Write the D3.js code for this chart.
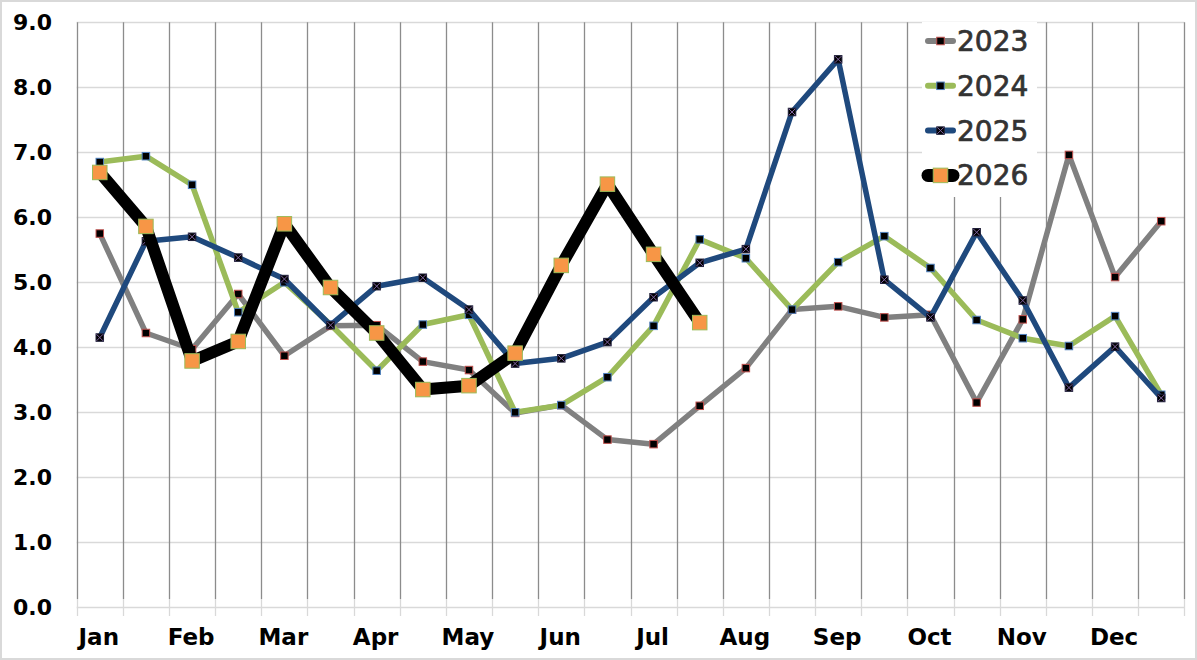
<!DOCTYPE html>
<html>
<head>
<meta charset="utf-8">
<script src="https://cdn.jsdelivr.net/npm/d3@7"></script>
<style>
  body { margin: 0; background: #fff; }
  svg { display: block; }
</style>
</head>
<body>
<svg id="chart"></svg>
<script>
// semi-monthly readings, two per month
var months = ['Jan', 'Feb', 'Mar', 'Apr', 'May', 'Jun', 'Jul', 'Aug', 'Sep', 'Oct', 'Nov', 'Dec'];
var periods = [];
months.forEach(function (m) { periods.push(m + '-1'); periods.push(m + '-2'); });

var yTicks = [0, 1, 2, 3, 4, 5, 6, 7, 8, 9];

var v2023 = [5.75, 4.22, 3.97, 4.82, 3.87, 4.33, 4.34, 3.78, 3.65, 2.99, 3.11, 2.58,
             2.51, 3.10, 3.68, 4.58, 4.63, 4.46, 4.50, 3.15, 4.43, 6.96, 5.08, 5.94];
var v2024 = [6.85, 6.94, 6.50, 4.54, 5.00, 4.35, 3.64, 4.35, 4.50, 3.00, 3.11, 3.54,
             4.33, 5.66, 5.37, 4.58, 5.31, 5.71, 5.22, 4.42, 4.14, 4.02, 4.48, 3.27];
var v2025 = [4.15, 5.63, 5.70, 5.38, 5.05, 4.34, 4.94, 5.07, 4.58, 3.75, 3.83, 4.08,
             4.77, 5.30, 5.51, 7.62, 8.43, 5.04, 4.46, 5.77, 4.72, 3.38, 4.01, 3.22];
var v2026 = [6.69, 5.86, 3.79, 4.09, 5.90, 4.92, 4.22, 3.35, 3.41, 3.91, 5.26, 6.51,
             5.43, 4.38];

var seriesNames = ['2023', '2024', '2025', '2026'];

var W = 1197, H = 660;
var svg = d3.select('#chart').attr('width', W).attr('height', H);

// outer frame
svg.append('rect')
    .attr('x', 1).attr('y', 1).attr('width', W - 2).attr('height', H - 2)
    .attr('fill', '#fff').attr('stroke', '#d9d9d9').attr('stroke-width', 2);

var x = d3.scaleBand().domain(periods).range([76.7, 1184.3]).padding(0);
var y = d3.scaleLinear().domain([0, 9]).range([607.3, 22.3]);

var grid = svg.append('g');
// horizontal gridlines
grid.selectAll('line.h').data(yTicks).enter().append('line')
    .attr('x1', 76.7).attr('x2', 1184.3)
    .attr('y1', function (d) { return Math.round(y(d)) + 0.5; })
    .attr('y2', function (d) { return Math.round(y(d)) + 0.5; })
    .attr('stroke', '#d9d9d9').attr('stroke-width', 1.5);

// vertical gridlines between periods (plus the closing one)
var bounds = periods.map(function (p) { return x(p); });
bounds.push(x.range()[1]);
grid.selectAll('line.v').data(bounds).enter().append('line')
    .attr('x1', function (d) { return Math.round(d) + 0.5; })
    .attr('x2', function (d) { return Math.round(d) + 0.5; })
    .attr('y1', y(9)).attr('y2', 599)
    .attr('stroke', '#8c8c8c').attr('stroke-width', 1.3);
grid.selectAll('line.t').data(bounds).enter().append('line')
    .attr('x1', function (d) { return Math.round(d) + 0.5; })
    .attr('x2', function (d) { return Math.round(d) + 0.5; })
    .attr('y1', 599).attr('y2', 616)
    .attr('stroke', '#d9d9d9').attr('stroke-width', 1.3);

// y labels
svg.selectAll('text.yl').data(yTicks).enter().append('text')
    .attr('x', 52).attr('y', function (d) { return y(d) + 8; })
    .attr('text-anchor', 'end')
    .style('font-family', 'DejaVu Sans').style('font-weight', 'bold').style('font-size', '22px')
    .attr('fill', '#000')
    .text(function (d) { return d.toFixed(1); });

// x labels on the first half of each month
svg.selectAll('text.xl').data(months).enter().append('text')
    .attr('x', function (m) { return x(m + '-1') + x.bandwidth() / 2 - 1; })
    .attr('y', 645)
    .attr('text-anchor', 'middle')
    .style('font-family', 'DejaVu Sans').style('font-weight', 'bold').style('font-size', '23px')
    .attr('fill', '#000')
    .text(function (m) { return m; });

var cx = function (d, i) { return x(periods[i]) + x.bandwidth() / 2; };
var line = d3.line()
    .x(function (d, i) { return cx(d, i); })
    .y(function (d) { return y(d); });

var styles = {
    '2023': { color: '#808080', width: 5.5, size: 7.5, fill: '#000', edge: '#c0504d', cross: false },
    '2024': { color: '#9bbb59', width: 5.5, size: 7.5, fill: '#000', edge: '#4f81bd', cross: false },
    '2025': { color: '#1f497d', width: 5.5, size: 7.5, fill: '#000', edge: '#1f1f3a', cross: true },
    '2026': { color: '#000000', width: 12, size: 14.5, fill: '#f79646', edge: '#9bbb59', cross: false }
};
var data = { '2023': v2023, '2024': v2024, '2025': v2025, '2026': v2026 };

function drawMarker(g, px, py, st) {
    var s = st.size;
    g.append('rect')
        .attr('x', px - s / 2).attr('y', py - s / 2)
        .attr('width', s).attr('height', s)
        .attr('fill', st.fill).attr('stroke', st.edge).attr('stroke-width', 1);
    if (st.cross) {
        var h = s / 2 - 0.5;
        g.append('path')
            .attr('d', 'M' + (px - h) + ',' + (py - h) + 'L' + (px + h) + ',' + (py + h) +
                       'M' + (px + h) + ',' + (py - h) + 'L' + (px - h) + ',' + (py + h))
            .attr('stroke', '#8064a2').attr('stroke-width', 1);
    }
}

seriesNames.forEach(function (name) {
    var st = styles[name];
    var vals = data[name];
    var g = svg.append('g');
    g.append('path')
        .datum(vals)
        .attr('d', line)
        .attr('fill', 'none')
        .attr('stroke', st.color)
        .attr('stroke-width', st.width)
        .attr('stroke-linejoin', 'round')
        .attr('stroke-linecap', 'round');
    vals.forEach(function (v, i) {
        drawMarker(g, cx(v, i), y(v), st);
    });
});

// legend
var lg = svg.append('g');
lg.append('rect')
    .attr('x', 922).attr('y', 22).attr('width', 115).attr('height', 175)
    .attr('fill', '#fff');
seriesNames.forEach(function (name, i) {
    var st = styles[name];
    var cy = 41 + i * 44.8;
    lg.append('line')
        .attr('x1', 928).attr('x2', 953).attr('y1', cy).attr('y2', cy)
        .attr('stroke', st.color)
        .attr('stroke-width', name === '2026' ? 13 : 6)
        .attr('stroke-linecap', 'round');
    drawMarker(lg, 940.5, cy, st);
    lg.append('text')
        .attr('x', 957).attr('y', cy + 10)
        .style('font-family', 'DejaVu Sans').style('font-size', '28px')
        .attr('fill', '#333').attr('stroke', '#333').attr('stroke-width', 0.7)
        .text(name);
});
</script>
</body>
</html>
